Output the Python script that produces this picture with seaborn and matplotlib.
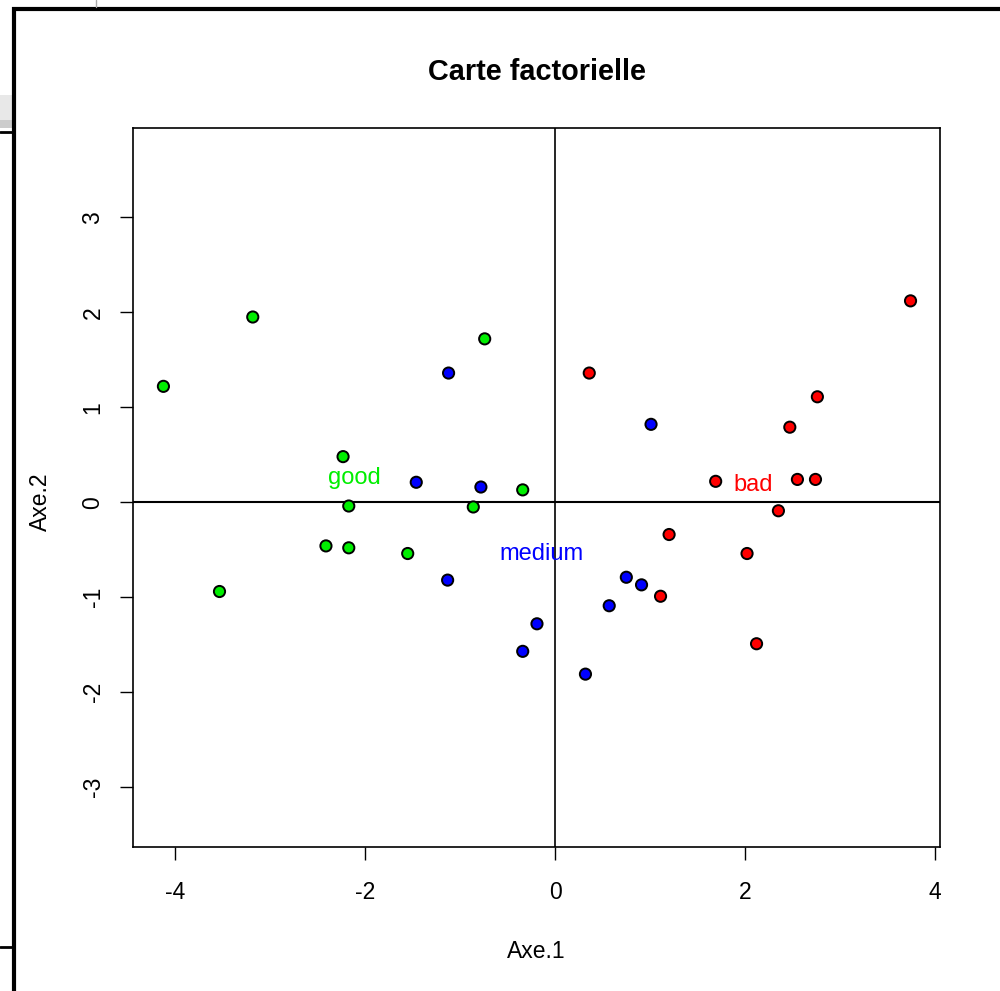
import matplotlib
matplotlib.use("Agg")
import matplotlib.pyplot as plt
import seaborn as sns
import pandas as pd
from matplotlib.lines import Line2D
from matplotlib.patches import Rectangle

# ---- data ----
good_x = [-4.12, -3.18, -3.53, -2.23, -2.17, -2.41, -2.17, -1.55, -0.74, -0.86, -0.34]
good_y = [1.22, 1.95, -0.94, 0.48, -0.04, -0.46, -0.48, -0.54, 1.72, -0.05, 0.13]
medium_x = [-1.12, -1.46, -0.78, -1.13, -0.19, -0.34, 0.32, 0.57, 0.75, 0.91, 1.01]
medium_y = [1.36, 0.21, 0.16, -0.82, -1.28, -1.57, -1.81, -1.09, -0.79, -0.87, 0.82]
bad_x = [0.36, 3.74, 2.76, 2.47, 1.69, 2.55, 2.74, 2.35, 1.20, 2.02, 1.11, 2.12]
bad_y = [1.36, 2.12, 1.11, 0.79, 0.22, 0.24, 0.24, -0.09, -0.34, -0.54, -0.99, -1.49]
groups = ["good", "medium", "bad"]
label_x = [-2.11, -0.14, 2.08]
label_y = [0.26, -0.54, 0.18]
colors = {"good": "#00ee00", "medium": "#0000ff", "bad": "#ff0000"}
xticks = [-4, -2, 0, 2, 4]
yticks = [-3, -2, -1, 0, 1, 2, 3]

df = pd.DataFrame({
    "Axe.1": good_x + medium_x + bad_x,
    "Axe.2": good_y + medium_y + bad_y,
    "group": ["good"] * len(good_x) + ["medium"] * len(medium_x) + ["bad"] * len(bad_x),
})

sns.set_style("white")
plt.rcParams["font.family"] = ["Liberation Sans", "DejaVu Sans"]
plt.rcParams["text.color"] = "black"
plt.rcParams["axes.labelcolor"] = "black"
plt.rcParams["xtick.color"] = "black"
plt.rcParams["ytick.color"] = "black"

fig = plt.figure(figsize=(10, 9.91), dpi=100)
ax = fig.add_axes([0.133, 1 - 847 / 991, 0.807, 719 / 991])

ax.axhline(0, color="black", lw=1.5, zorder=1)
ax.axvline(0, color="black", lw=1.2, zorder=1)

sns.scatterplot(data=df, x="Axe.1", y="Axe.2", hue="group", palette=colors,
                s=65, edgecolor="black", linewidth=1.4, legend=False, ax=ax, zorder=3)

for g, lx, ly in zip(groups, label_x, label_y):
    ax.text(lx, ly, g, color=colors[g], fontsize=17, ha="center", va="center", zorder=4)

ax.set_xlim(-4.44, 4.05)
ax.set_ylim(-3.63, 3.94)
ax.set_xticks(xticks)
ax.set_yticks(yticks)
ax.set_xticklabels([str(v) for v in xticks])
ax.set_yticklabels([str(v) for v in yticks], rotation=90, va="center")
ax.tick_params(axis="both", direction="out", length=9.5, width=1.0, color="black",
               labelsize=16.5, labelcolor="black", left=True, bottom=True)
ax.tick_params(axis="x", pad=15)
ax.tick_params(axis="y", pad=11)
for s in ax.spines.values():
    s.set_visible(True)
    s.set_color("black")
    s.set_linewidth(1.2)

ax.set_xlabel("Axe.1", fontsize=16.5, color="black")
ax.set_ylabel("Axe.2", fontsize=16.5, color="black")
ax.xaxis.set_label_coords((536 - 133) / 807, (847 - 952) / 719)
ax.xaxis.label.set_va("center")
ax.yaxis.set_label_coords((40 - 133) / 807, (847 - 502) / 719)
ax.yaxis.label.set_va("center")

fig.text(537 / 1000, 1 - 72 / 991, "Carte factorielle", fontsize=20.8, weight="bold",
         ha="center", va="center", color="black")

# window chrome of the screenshot
W, H = 1000, 991
fig.add_artist(Rectangle((0, 1 - 120 / H), 12 / W, 25 / H, transform=fig.transFigure,
                         facecolor="#e8e8e8", edgecolor="none"))
fig.add_artist(Rectangle((0, 1 - 128 / H), 12 / W, 8 / H, transform=fig.transFigure,
                         facecolor="#cccccc", edgecolor="none"))
fig.add_artist(Line2D([12 / W, 1], [1 - 9 / H, 1 - 9 / H], transform=fig.transFigure,
                      color="black", lw=3, solid_capstyle="butt"))
fig.add_artist(Line2D([14 / W, 14 / W], [0, 1 - 7 / H], transform=fig.transFigure,
                      color="black", lw=3, solid_capstyle="butt"))
fig.add_artist(Line2D([0, 12 / W], [1 - 132 / H, 1 - 132 / H], transform=fig.transFigure,
                      color="black", lw=2))
fig.add_artist(Line2D([0, 12 / W], [1 - 947 / H, 1 - 947 / H], transform=fig.transFigure,
                      color="black", lw=2))
fig.add_artist(Line2D([96 / W, 96 / W], [1 - 7 / H, 1], transform=fig.transFigure,
                      color="#aaaaaa", lw=1))

fig.savefig("out.png", dpi=100)
